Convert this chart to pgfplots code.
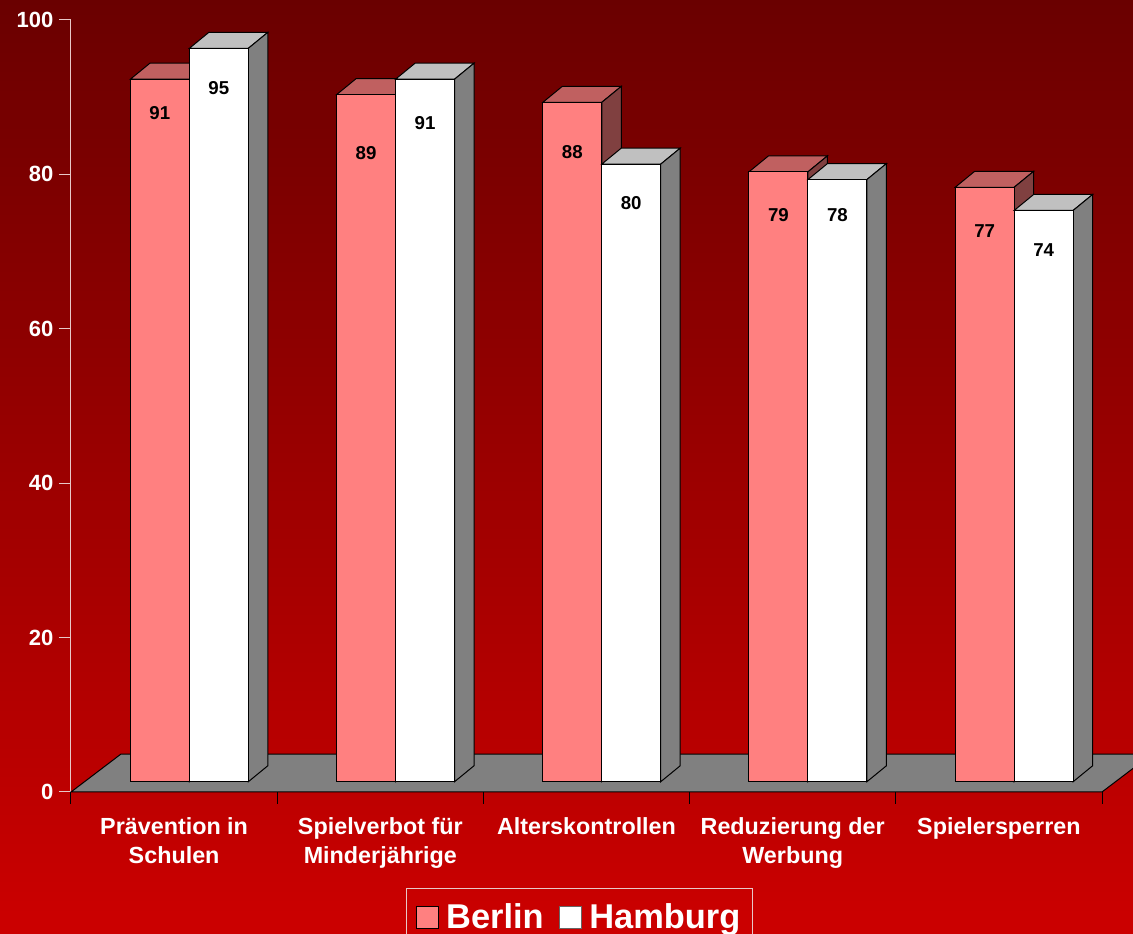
\documentclass[border=0pt]{standalone}
\usepackage{pgfplots}
\pgfplotsset{compat=1.18}
\usepackage{pgfplotstable}
\usepackage{fontspec}
\setmainfont{Liberation Sans}

\definecolor{bfront}{HTML}{FF8080}
\definecolor{btop}{HTML}{C06060}
\definecolor{bside}{HTML}{804040}
\definecolor{hfront}{HTML}{FFFFFF}
\definecolor{htop}{HTML}{C0C0C0}
\definecolor{hside}{HTML}{808080}
\definecolor{floorc}{HTML}{808080}
\definecolor{axcol}{HTML}{E8C8C8}
\definecolor{bgtop}{HTML}{6A0000}
\definecolor{bgbot}{HTML}{CC0000}

% values and label positions (label y in axis units)
\pgfplotstableread{
x berlin hamburg lb lh
0 91 95 87.95 91.2
1 89 91 82.8 86.7
2 88 80 82.9 76.3
3 79 78 74.7 74.7
4 77 74 72.7 70.2
}\bardata

\def\bw{0.286}   % bar width (axis units)
\def\ddx{0.0946} % depth in x
\def\ddy{2.07}   % depth in y
\def\base{1.33}  % bar base above floor front edge

% #1 left x, #2 value, #3 front, #4 top, #5 side
\newcommand\drawbar[5]{%
  \pgfmathsetmacro\xa{#1}%
  \pgfmathsetmacro\xb{#1+\bw}%
  \pgfmathsetmacro\xc{\xa+\ddx}%
  \pgfmathsetmacro\xd{\xb+\ddx}%
  \pgfmathsetmacro\ya{\base}%
  \pgfmathsetmacro\yb{\base+#2}%
  \pgfmathsetmacro\yc{\base+\ddy}%
  \pgfmathsetmacro\yd{\base+#2+\ddy}%
  \addplot[forget plot, fill=#4, draw=black, line width=0.75pt] coordinates {(\xa,\yb) (\xc,\yd) (\xd,\yd) (\xb,\yb)} -- cycle;
  \addplot[forget plot, fill=#5, draw=black, line width=0.75pt] coordinates {(\xb,\ya) (\xd,\yc) (\xd,\yd) (\xb,\yb)} -- cycle;
  \addplot[forget plot, fill=#3, draw=black, line width=0.75pt] coordinates {(\xa,\ya) (\xa,\yb) (\xb,\yb) (\xb,\ya)} -- cycle;
}

\begin{document}
\begin{tikzpicture}
\useasboundingbox (0,0) rectangle (849.75pt,700.5pt);
\clip (0,0) rectangle (849.75pt,700.5pt);
\shade[top color=bgtop, bottom color=bgbot] (0,0) rectangle (849.75pt,700.5pt);
\begin{axis}[
  at={(53.25pt,106.5pt)}, anchor=south west,
  scale only axis, width=773.25pt, height=579pt,
  xmin=-0.5, xmax=4.5, ymin=0, ymax=100,
  clip=false,
  axis x line*=bottom, axis y line*=left,
  x axis line style={black, line width=0.75pt},
  y axis line style={axcol, line width=0.75pt},
  tick align=outside,
  major tick length=9pt, minor tick length=9pt,
  xtick={0,...,4},
  minor xtick={-0.5,0.5,...,4.5},
  major x tick style={draw=none},
  minor x tick style={draw=black, line width=0.75pt},
  ytick={0,20,...,100},
  y tick style={draw=axcol, line width=0.75pt},
  xticklabels={{Prävention in\\Schulen},{Spielverbot für\\Minderjährige},{Alterskontrollen},{Reduzierung der\\Werbung},{Spielersperren}},
  xticklabel style={font=\bfseries\fontsize{17.5}{21.75}\selectfont, text=white, align=center, anchor=north, yshift=-6.75pt},
  yticklabel style={font=\bfseries\fontsize{16.5}{20}\selectfont, text=white, xshift=-0.75pt},
  /pgf/number format/assume math mode=true,
  legend style={at={(0.4932,-0.1244)}, anchor=north, draw=axcol, line width=0.75pt, fill=none,
    text=white, font=\bfseries\fontsize{25.8}{30}\selectfont,
    inner xsep=7pt, inner ysep=9.5pt,
    /tikz/every odd column/.append style={column sep=3.5pt},
    /tikz/every even column/.append style={column sep=9.5pt}},
  legend columns=2,
  legend image code/.code={\draw[#1, line width=0.75pt] (0pt,-8.25pt) rectangle (16.5pt,8.25pt);},
]
% floor
\addplot[forget plot, fill=floorc, draw=black, line width=0.75pt] coordinates {(-0.5,0) (-0.2575,4.92) (4.7425,4.92) (4.5,0)} -- cycle;

\pgfplotsinvokeforeach{0,...,4}{
  \pgfplotstablegetelem{#1}{berlin}\of\bardata \let\vB\pgfplotsretval
  \pgfplotstablegetelem{#1}{hamburg}\of\bardata \let\vH\pgfplotsretval
  \drawbar{#1-0.212}{\vB}{bfront}{btop}{bside}
  \drawbar{#1+0.074}{\vH}{hfront}{htop}{hside}
}

% value labels
\addplot[forget plot, draw=none, mark=none, nodes near coords, point meta=explicit symbolic,
  every node near coord/.append style={anchor=center, text=black, font=\bfseries\fontsize{14}{16}\selectfont}]
  table[x expr=\thisrow{x}-0.069, y=lb, meta=berlin]{\bardata};
\addplot[forget plot, draw=none, mark=none, nodes near coords, point meta=explicit symbolic,
  every node near coord/.append style={anchor=center, text=black, font=\bfseries\fontsize{14}{16}\selectfont}]
  table[x expr=\thisrow{x}+0.217, y=lh, meta=hamburg]{\bardata};

\addlegendimage{fill=bfront, draw=black}
\addlegendentry{Berlin}
\addlegendimage{fill=hfront, draw=black!60}
\addlegendentry{Hamburg}
\end{axis}
\end{tikzpicture}
\end{document}
